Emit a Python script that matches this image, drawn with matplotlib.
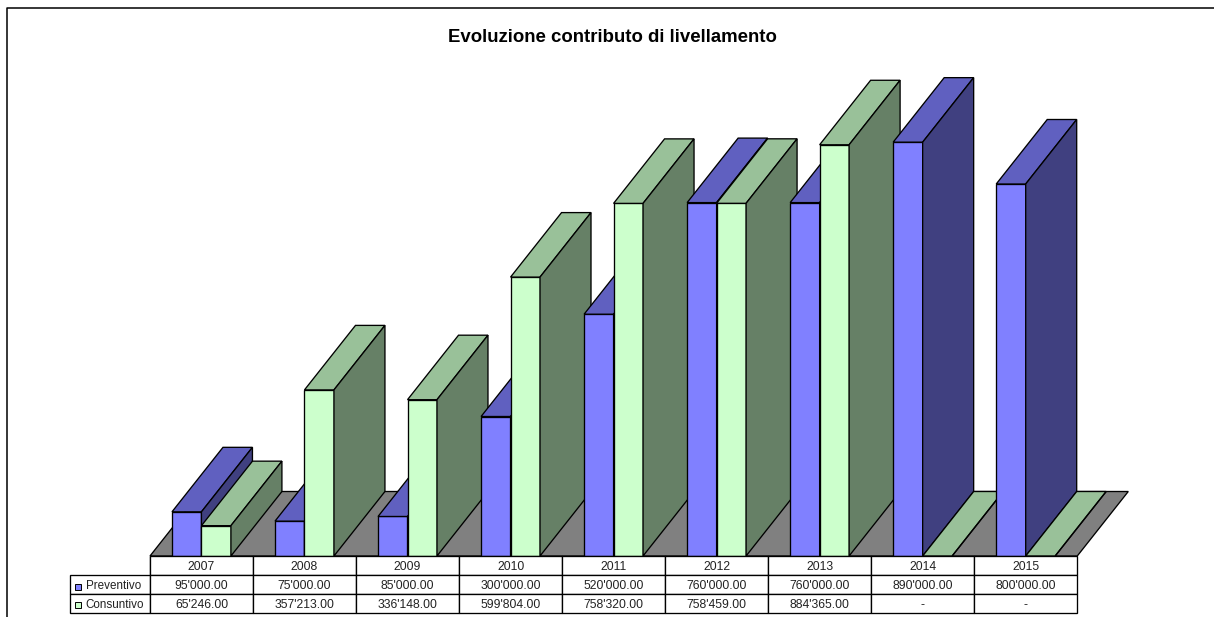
import numpy as np
import matplotlib
matplotlib.use('Agg')
import matplotlib.pyplot as plt
from matplotlib.patches import Polygon, Rectangle
from matplotlib.lines import Line2D

years = ['2007', '2008', '2009', '2010', '2011', '2012', '2013', '2014', '2015']
preventivo = [95000, 75000, 85000, 300000, 520000, 760000, 760000, 890000, 800000]
consuntivo = [65246, 357213, 336148, 599804, 758320, 758459, 884365, None, None]
series_names = ['Preventivo', 'Consuntivo']

W, H = 1214, 617
CAT_PX = 103.03      # pixels per category
VAL_PX = 0.000465    # pixels per unit of value
X0_PX, Y0_PX = 150, 556
DEPTH_X = 51 / CAT_PX
DEPTH_Y = 64.5 / VAL_PX
BAR_W = 0.286
GAP = 0.2134

BLUE = ('#8080FF', '#6060C0', '#404080')
GREEN = ('#CCFFCC', '#99C199', '#668066')
EDGE = '#000000'
LW = 0.95


def fmt(v):
    if v is None:
        return '-'
    return f"{v:,.2f}".replace(',', "'")


def fx(px):
    return px / W


def fy(px):
    return 1 - px / H


def box3d(ax, x, val, colors, z):
    front, top, side = colors
    w = BAR_W
    faces = [
        ([(x, 0), (x + w, 0), (x + w, val), (x, val)], front),
        ([(x, val), (x + w, val), (x + w + DEPTH_X, val + DEPTH_Y), (x + DEPTH_X, val + DEPTH_Y)], top),
        ([(x + w, 0), (x + w + DEPTH_X, DEPTH_Y), (x + w + DEPTH_X, val + DEPTH_Y), (x + w, val)], side),
    ]
    for pts, c in faces:
        ax.add_patch(Polygon(pts, closed=True, facecolor=c, edgecolor=EDGE, linewidth=LW, zorder=z, joinstyle='miter'))


fig = plt.figure(figsize=(W / 100, H / 100), dpi=100)
plt.rcParams['font.family'] = ['Liberation Sans', 'DejaVu Sans']
ax = fig.add_axes([0, 0, 1, 1])
ax.set_xlim(-X0_PX / CAT_PX, (W - X0_PX) / CAT_PX)
ax.set_ylim(-(H - Y0_PX) / VAL_PX, Y0_PX / VAL_PX)
ax.axis('off')

# floor
n = len(years)
ax.add_patch(Polygon([(0, 0), (n, 0), (n + DEPTH_X, DEPTH_Y), (DEPTH_X, DEPTH_Y)], closed=True,
                     facecolor='#808080', edgecolor=EDGE, linewidth=LW, zorder=1))

z = 2
for i in range(n):
    box3d(ax, i + GAP, preventivo[i], BLUE, z)
    z += 1
    box3d(ax, i + GAP + BAR_W, consuntivo[i] or 0, GREEN, z)
    z += 1

# outer frame, only top and left visible
fig.add_artist(Line2D([fx(7.3), fx(7.3), fx(1214)], [fy(617), fy(8.3), fy(8.3)], color='black', lw=1.1))

fig.text(fx(612.5), fy(37.5), 'Evoluzione contributo di livellamento', ha='center', va='center',
         fontsize=13.4, fontweight='bold')

# data table
cells = [[''] + years,
         [series_names[0]] + [fmt(v) for v in preventivo],
         [series_names[1]] + [fmt(v) for v in consuntivo]]
tab_right = X0_PX + n * CAT_PX
tab_w = tab_right - 70
widths = [80 / tab_w] + [CAT_PX / tab_w] * n
tab = ax.table(cellText=cells, colWidths=widths, cellLoc='center',
               bbox=[fx(70), 1 - 612.5 / H, tab_w / W, 56.5 / H], zorder=50)
tab.auto_set_font_size(False)
tab.set_fontsize(8.7)
for (r, c), cell in tab.get_celld().items():
    cell.set_linewidth(LW)
    cell.set_edgecolor('black')
    cell.get_text().set_color('#222222')
    cell.get_text().set_verticalalignment('center_baseline')
    if c == 0:
        cell.PAD = 0.195
        cell.get_text().set_horizontalalignment('left')
        cell.get_text().set_fontsize(8.4)
        if r == 0:
            cell.visible_edges = 'R'
        else:
            cell.visible_edges = 'closed'

# legend keys
for yc, col in zip([586.5, 604.5], [BLUE[0], GREEN[0]]):
    fig.add_artist(Rectangle((fx(75), fy(yc + 3)), 6 / W, 6 / H, facecolor=col, edgecolor='black',
                             linewidth=0.7, transform=fig.transFigure))

fig.savefig('out.png', dpi=100)
